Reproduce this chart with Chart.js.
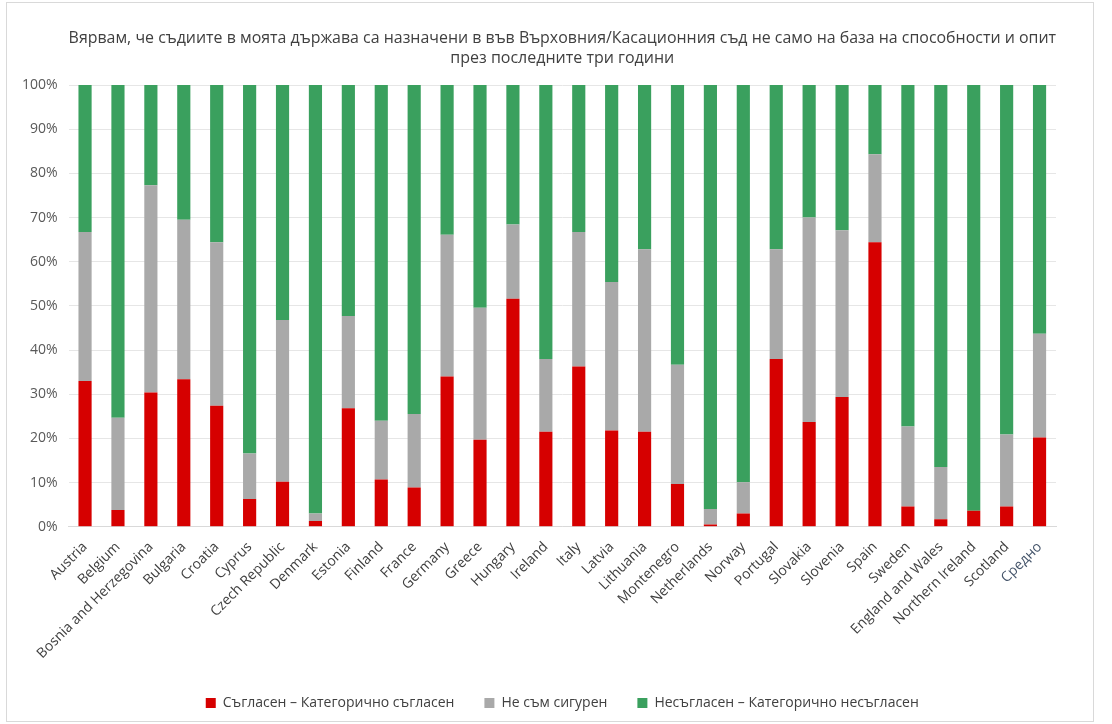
<!DOCTYPE html>
<html>
<head>
<meta charset="utf-8">
<script src="https://cdn.jsdelivr.net/npm/chart.js@4.4.1/dist/chart.umd.min.js"></script>
<style>
  body { margin: 0; background: #fff; }
  #wrap { position: absolute; left: 6px; top: 2px; width: 1086px; height: 718px; border: 1px solid #d9d9d9; }
</style>
</head>
<body>
<div id="wrap"><canvas id="chart"></canvas></div>
<script>
const countries = ['Austria', 'Belgium', 'Bosnia and Herzegovina', 'Bulgaria', 'Croatia', 'Cyprus',
    'Czech Republic', 'Denmark', 'Estonia', 'Finland', 'France', 'Germany', 'Greece', 'Hungary',
    'Ireland', 'Italy', 'Latvia', 'Lithuania', 'Montenegro', 'Netherlands', 'Norway', 'Portugal',
    'Slovakia', 'Slovenia', 'Spain', 'Sweden', 'England and Wales', 'Northern Ireland', 'Scotland', 'Средно'];

// Съгласен – Категорично съгласен
const agree = [33.0, 3.8, 30.4, 33.4, 27.4, 6.3, 10.2, 1.3, 26.8, 10.7, 8.9, 34.0, 19.7, 51.6,
    21.5, 36.3, 21.8, 21.5, 9.7, 0.5, 3.0, 38.0, 23.7, 29.4, 64.4, 4.6, 1.7, 3.6, 4.6, 20.2];
// Не съм сигурен
const notSure = [33.7, 20.9, 46.9, 36.1, 37.0, 10.3, 36.6, 1.7, 20.9, 13.3, 16.6, 32.1, 29.9, 16.8,
    16.5, 30.4, 33.6, 41.3, 27.0, 3.5, 7.1, 24.8, 46.3, 37.7, 19.9, 18.1, 11.8, 0.0, 16.3, 23.5];
// Несъгласен – Категорично несъгласен
const disagree = [33.3, 75.3, 22.7, 30.5, 35.6, 83.4, 53.2, 97.0, 52.3, 76.0, 74.5, 33.9, 50.4, 31.6,
    62.0, 33.3, 44.6, 37.2, 63.3, 96.0, 89.9, 37.2, 30.0, 32.9, 15.7, 77.3, 86.5, 96.4, 79.1, 56.3];

const yTicks = [0, 10, 20, 30, 40, 50, 60, 70, 80, 90, 100];

const font = "'Open Sans', 'Noto Sans', sans-serif";

new Chart(document.getElementById('chart').getContext('2d'), {
    type: 'bar',
    data: {
        labels: countries,
        datasets: [
            { label: 'Съгласен – Категорично съгласен', data: agree, backgroundColor: '#d60000' },
            { label: 'Не съм сигурен', data: notSure, backgroundColor: '#a9a9a9' },
            { label: 'Несъгласен – Категорично несъгласен', data: disagree, backgroundColor: '#3aa05e' }
        ]
    },
    options: {
        responsive: true,
        maintainAspectRatio: false,
        animation: false,
        datasets: {
            bar: { categoryPercentage: 1, barPercentage: 0.4 }
        },
        layout: { padding: { left: 4, right: 37, top: 8, bottom: 1 } },
        scales: {
            x: {
                stacked: true,
                grid: { display: false },
                border: { color: '#d9d9d9' },
                ticks: {
                    minRotation: 45,
                    maxRotation: 45,
                    autoSkip: false,
                    padding: 4,
                    color: ctx => ctx.index === countries.length - 1 ? '#44546a' : '#404040',
                    font: { family: font, size: 14 }
                }
            },
            y: {
                stacked: true,
                min: 0,
                max: 100,
                afterBuildTicks: axis => { axis.ticks = yTicks.map(v => ({ value: v })); },
                grid: { color: '#e6e6e6', drawTicks: false },
                border: { display: false },
                ticks: {
                    padding: 11,
                    color: '#595959',
                    font: { family: font, size: 14 },
                    callback: v => v + '%'
                }
            }
        },
        plugins: {
            legend: {
                position: 'bottom',
                fullSize: false,
                labels: {
                    boxWidth: 10,
                    boxHeight: 10,
                    padding: 30,
                    color: '#404040',
                    font: { family: font, size: 14 }
                }
            },
            title: {
                display: true,
                fullSize: false,
                text: ['Вярвам, че съдиите в моята държава са назначени в във Върховния/Касационния съд не само на база на способности и опит',
                       'през последните три години'],
                color: '#404040',
                font: { family: font, size: 16, weight: 'normal', lineHeight: 1.25 },
                padding: { top: 17, bottom: 17 }
            },
            tooltip: { enabled: false }
        }
    }
});
</script>
</body>
</html>
